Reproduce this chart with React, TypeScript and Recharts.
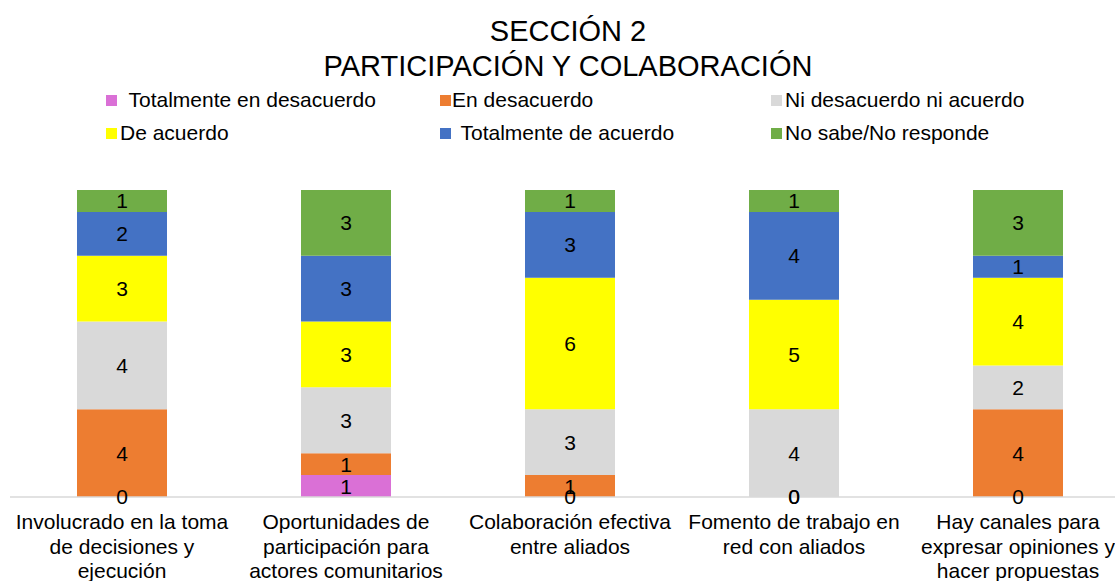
import { BarChart, Bar, XAxis, YAxis, LabelList } from "recharts";

const categories = [
  ["Involucrado en la toma", "de decisiones y", "ejecución"],
  ["Oportunidades de", "participación para", "actores comunitarios"],
  ["Colaboración efectiva", "entre aliados"],
  ["Fomento de trabajo en", "red con aliados"],
  ["Hay canales para", "expresar opiniones y", "hacer propuestas"],
];

const totalmenteDesacuerdo = [0, 1, 0, 0, 0];
const enDesacuerdo = [4, 1, 1, 0, 4];
const niDesacuerdoNiAcuerdo = [4, 3, 3, 4, 2];
const deAcuerdo = [3, 3, 6, 5, 4];
const totalmenteAcuerdo = [2, 3, 3, 4, 1];
const noSabe = [1, 3, 1, 1, 3];

const series = [
  { key: "td", name: " Totalmente en desacuerdo", color: "#DA70D6", values: totalmenteDesacuerdo },
  { key: "ed", name: "En desacuerdo", color: "#ED7D31", values: enDesacuerdo },
  { key: "ni", name: "Ni desacuerdo ni acuerdo", color: "#D9D9D9", values: niDesacuerdoNiAcuerdo },
  { key: "da", name: "De acuerdo", color: "#FFFF00", values: deAcuerdo },
  { key: "ta", name: " Totalmente de acuerdo", color: "#4472C4", values: totalmenteAcuerdo },
  { key: "ns", name: "No sabe/No responde", color: "#70AD47", values: noSabe },
];

const data = categories.map((lines, i) => {
  const row: Record<string, any> = { name: lines.join(" ") };
  series.forEach((s) => (row[s.key] = s.values[i]));
  return row;
});

const font = "'Liberation Sans', Arial, sans-serif";

// legend slots: [square x, text x, row]
const legendPos = [
  [106, 123, 0],
  [440, 452, 0],
  [771, 785, 0],
  [106, 120, 1],
  [440, 455, 1],
  [771, 785, 1],
];

const Header = () => (
  <svg
    width={1115}
    height={150}
    style={{ position: "absolute", left: 0, top: 0, pointerEvents: "none" }}
  >
    <text x={568} y={41} textAnchor="middle" fontSize={29} fontFamily={font} fill="#000">
      SECCIÓN 2
    </text>
    <text x={568} y={76} textAnchor="middle" fontSize={29} fontFamily={font} fill="#000">
      PARTICIPACIÓN Y COLABORACIÓN
    </text>
    {series.map((s, i) => {
      const [sx, tx, row] = legendPos[i];
      const base = row === 0 ? 107 : 140;
      return (
        <g key={s.key}>
          <rect x={sx} y={base - 12} width={11} height={11} fill={s.color} />
          <text x={tx} y={base} fontSize={21} fontFamily={font} fill="#000" style={{ whiteSpace: "pre" }}>
            {s.name}
          </text>
        </g>
      );
    })}
  </svg>
);

const CategoryTick = (props: any) => {
  const { x, payload } = props;
  const lines = categories[payload.index] ?? [];
  return (
    <text x={x} textAnchor="middle" fontSize={21} fontFamily={font} fill="#000">
      {lines.map((l, i) => (
        <tspan key={i} x={x} y={529 + i * 24.5}>
          {l}
        </tspan>
      ))}
    </text>
  );
};

const SegmentLabel = (props: any) => {
  const { x, y, width, height, value } = props;
  if (value === undefined || value === null) return null;
  return (
    <text
      x={Number(x) + Number(width) / 2}
      y={Number(y) + Number(height) / 2}
      textAnchor="middle"
      dominantBaseline="central"
      fontSize={21}
      fontFamily={font}
      fill="#000"
    >
      {value}
    </text>
  );
};

export default function App() {
  return (
    <div
      style={{
        position: "absolute",
        left: 0,
        top: 0,
        width: 1115,
        height: 581,
        overflow: "hidden",
        background: "#fff",
      }}
    >
      <BarChart
        width={1140}
        height={581}
        data={data}
        margin={{ top: 190, right: 10, bottom: 0, left: 10 }}
      >
        <XAxis
          dataKey="name"
          height={84}
          axisLine={{ stroke: "#D9D9D9", strokeWidth: 1.5 }}
          tickLine={false}
          interval={0}
          tick={<CategoryTick />}
        />
        <YAxis hide domain={[0, 14]} />
        {series.map((s) => (
          <Bar
            key={s.key}
            dataKey={s.key}
            stackId="a"
            fill={s.color}
            barSize={90}
            minPointSize={0.01}
            isAnimationActive={false}
          >
            <LabelList dataKey={s.key} content={<SegmentLabel />} />
          </Bar>
        ))}
      </BarChart>
      <Header />
    </div>
  );
}
